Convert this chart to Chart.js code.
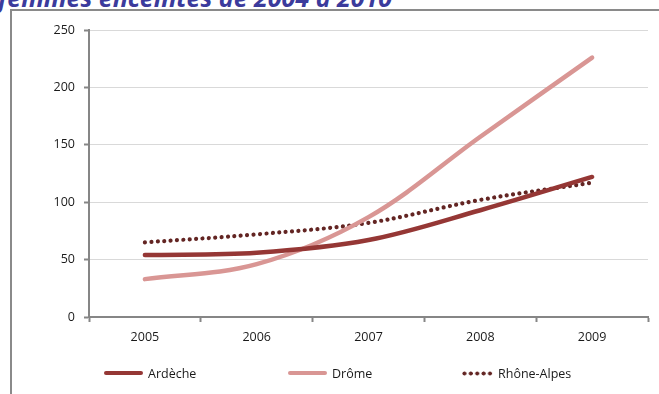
<!DOCTYPE html>
<html lang="fr">
<head>
<meta charset="utf-8">
<script src="https://cdn.jsdelivr.net/npm/chart.js@4/dist/chart.umd.min.js"></script>
<style>
  html, body { margin: 0; padding: 0; background: #fff; overflow: hidden; }
  body { width: 659px; height: 394px; position: relative; font-family: "Open Sans", sans-serif; }
  #title {
    position: absolute; left: -2px; top: -20px; margin: 0; line-height: 1.362;
    font: italic 700 25px "Open Sans", sans-serif; color: #3b3b9c; white-space: nowrap;
  }
  #frame {
    position: absolute; left: 10px; top: 9px; width: 700px; height: 420px;
    border: 2px solid #8a8a8a; box-sizing: border-box;
  }
  #chart { position: absolute; left: 0; top: 0; }
  .lg-item { position: absolute; top: 364px; height: 18px; display: flex; align-items: center;
    font-size: 12.5px; color: #1a1a1a; white-space: nowrap; }
  .lg-swatch { height: 4.5px; border-radius: 2.5px; margin-right: 5px; }
  .lg-dots { height: 5px; margin-right: 4px;
    background-repeat: repeat-x; background-size: 6.4px 5px; }
</style>
</head>
<body>
<h1 id="title">femmes enceintes de 2004 à 2010</h1>
<div id="frame"></div>
<canvas id="chart" width="659" height="394"></canvas>
<div id="legend"></div>
<script>
// Naissances par année (données lues de la série)
const years = ['2005', '2006', '2007', '2008', '2009'];
const ardeche = [54, 56, 67, 93, 122];
const drome = [33, 46, 87, 157, 226];
const rhoneAlpes = [65, 72, 82, 102, 117];
const seriesNames = ['Ardèche', 'Drôme', 'Rhône-Alpes'];
const yTicks = [0, 50, 100, 150, 200, 250];

const colors = ['#953735', '#d99694', '#632523'];
const axisGray = '#868686';
const fontSpec = { family: '"Open Sans", sans-serif', size: 12.5 };

const datasets = [
  { label: seriesNames[0], data: ardeche, borderColor: colors[0], borderWidth: 4.5,
    borderCapStyle: 'round', tension: 0.35, pointRadius: 0, fill: false },
  { label: seriesNames[1], data: drome, borderColor: colors[1], borderWidth: 4.5,
    borderCapStyle: 'round', tension: 0.35, pointRadius: 0, fill: false },
  { label: seriesNames[2], data: rhoneAlpes, borderColor: colors[2], borderWidth: 4.2,
    borderCapStyle: 'round', borderDash: [0.01, 6.4], tension: 0.35, pointRadius: 0, fill: false }
];

new Chart(document.getElementById('chart'), {
  type: 'line',
  data: { labels: years, datasets },
  options: {
    responsive: false,
    animation: false,
    devicePixelRatio: 1,
    layout: { padding: { left: 0, top: 30, right: 11, bottom: 37 } },
    plugins: { legend: { display: false }, tooltip: { enabled: false } },
    scales: {
      x: {
        offset: true,
        grid: { offset: true, drawOnChartArea: false, drawTicks: true, tickLength: 5,
                tickColor: axisGray, tickWidth: 2 },
        border: { display: true, color: axisGray, width: 2 },
        ticks: { color: '#1a1a1a', font: fontSpec, padding: 8, maxRotation: 0 },
        afterFit: (s) => { s.height = 40; }
      },
      y: {
        min: 0, max: 250,
        afterBuildTicks: (s) => { s.ticks = yTicks.map(v => ({ value: v })); },
        grid: { color: '#d9d9d9', lineWidth: 1, tickLength: 5, tickColor: axisGray, tickWidth: 2 },
        border: { display: true, color: axisGray, width: 2 },
        ticks: { color: '#1a1a1a', font: fontSpec, padding: 9 },
        afterFit: (s) => { s.width = 89; }
      }
    }
  }
});

// Légende sous le graphique
const legendLeft = [104, 288, 462];
const legendEl = document.getElementById('legend');
seriesNames.forEach((name, i) => {
  const item = document.createElement('div');
  item.className = 'lg-item';
  item.style.left = legendLeft[i] + 'px';
  const sw = document.createElement('span');
  if (i === 2) {
    sw.className = 'lg-dots';
    sw.style.width = '32px';
    sw.style.backgroundImage = `radial-gradient(circle at 2.4px 2.5px, ${colors[i]} 1.7px, transparent 2.3px)`;
  } else {
    sw.className = 'lg-swatch';
    sw.style.width = '39px';
    sw.style.background = colors[i];
  }
  const tx = document.createElement('span');
  tx.textContent = name;
  item.appendChild(sw);
  item.appendChild(tx);
  legendEl.appendChild(item);
});
</script>
</body>
</html>
